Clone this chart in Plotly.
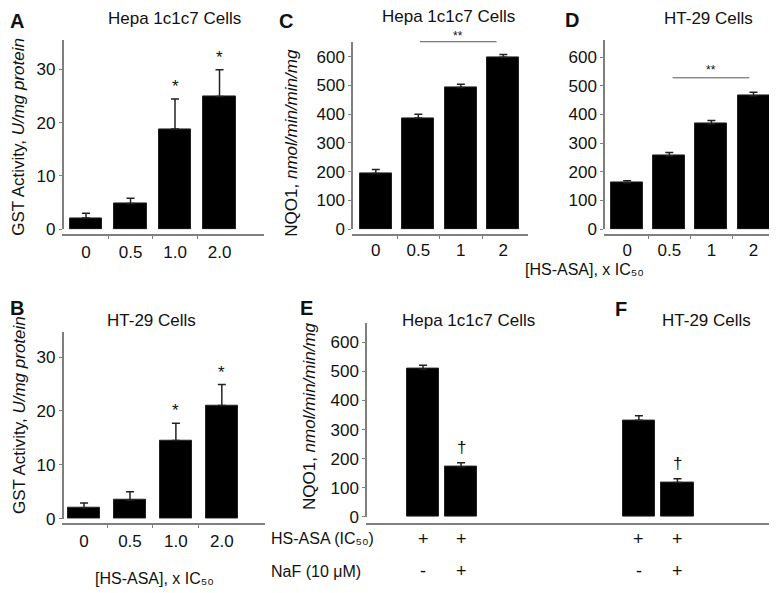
import plotly.graph_objects as go

W, H = 777, 593
FONT = "Liberation Sans, Arial, sans-serif"

# ---------------- data ----------------
gst_doses = ["0", "0.5", "1.0", "2.0"]
nqo_doses = ["0", "0.5", "1", "2"]

A_vals = [2.1, 4.8, 18.8, 24.9]
A_err = [0.9, 1.0, 5.6, 5.0]
A_sig = ["", "", "*", "*"]

B_vals = [2.0, 3.4, 14.5, 21.0]
B_err = [0.9, 1.6, 3.2, 3.9]
B_sig = ["", "", "*", "*"]

C_vals = [194, 387, 493, 598]
C_err = [14, 13, 11, 10]

D_vals = [162, 256, 368, 465]
D_err = [7, 11, 11, 12]

E_vals = [508, 172]
E_err = [13, 14]
F_vals = [332, 118]
F_err = [15, 13]
EF_sig = ["", "†"]
hs_asa_row = ["+", "+"]
naf_row = ["-", "+"]

gst_ticks = [0, 10, 20, 30]
nqo_ticks = [0, 100, 200, 300, 400, 500, 600]

# --------------- helpers ---------------
def xp(px):
    return px / W

def yp(py):
    return 1 - py / H

AX = "#7f7f7f"
TXT = "#111111"
SUB50 = "\u2085\u2080"
fig = go.Figure()
annotations = []
shapes = []


def add_bars(xname, yname, vals, errs, width):
    fig.add_trace(go.Bar(
        x=list(range(len(vals))), y=vals, width=width,
        marker=dict(color="black", line=dict(color="#222", width=1)),
        error_y=dict(type="data", symmetric=False, array=errs,
                     arrayminus=[0] * len(errs), color="#222",
                     thickness=1.5, width=4),
        xaxis=xname, yaxis=yname, showlegend=False,
    ))


def xaxis_cfg(dom, rng, ypos, labels, standoff=2, show_labels=True):
    n = len(labels)
    d = dict(
        domain=[xp(dom[0]), xp(dom[1])], range=rng, anchor="free",
        position=yp(ypos), showline=True, linecolor=AX, linewidth=1.5,
        ticks="", showgrid=False, zeroline=False,
        fixedrange=True,
    )
    if show_labels:
        d.update(
            tickmode="array", tickvals=list(range(n)), ticktext=labels,
            tickfont=dict(family=FONT, size=17, color=TXT),
            ticklabelstandoff=standoff,
            minor=dict(tickmode="array",
                       tickvals=[i + 0.5 for i in range(n - 1)],
                       ticks="outside", ticklen=3, tickcolor=AX, showgrid=False),
        )
    else:
        d.update(showticklabels=False, tickmode="array", tickvals=[])
    return d


def yaxis_cfg(dom, rng, xpos, tickvals, show=True):
    d = dict(
        domain=[yp(dom[0]), yp(dom[1])], range=rng, anchor="free",
        position=xp(xpos), showline=show, linecolor=AX, linewidth=1.5,
        showgrid=False, zeroline=False, fixedrange=True,
    )
    if show:
        d.update(tickmode="array", tickvals=tickvals, ticks="outside",
                 ticklen=3, tickcolor=AX,
                 tickfont=dict(family=FONT, size=17, color=TXT))
    else:
        d.update(showticklabels=False, tickmode="array", tickvals=[])
    return d


add_bars("x", "y", A_vals, A_err, 0.73)
add_bars("x2", "y2", B_vals, B_err, 0.71)
add_bars("x3", "y3", C_vals, C_err, 0.75)
add_bars("x4", "y4", D_vals, D_err, 0.76)
add_bars("x5", "y5", E_vals, E_err, 0.84)
add_bars("x6", "y6", F_vals, F_err, 0.84)

fig.update_layout(
    xaxis=xaxis_cfg((54, 256), [-0.54, 4.0], 230.7, gst_doses, standoff=2),
    yaxis=yaxis_cfg((225, 33), [0, 35.4], 54.5, gst_ticks),
    xaxis2=xaxis_cfg((54, 257), [-0.48, 3.94], 525, gst_doses, standoff=2),
    yaxis2=yaxis_cfg((519.3, 329.3), [0, 34.7], 54.5, gst_ticks),
    xaxis3=xaxis_cfg((344, 520), [-0.56, 3.58], 230.7, nqo_doses, standoff=0),
    yaxis3=yaxis_cfg((225, 35), [0, 650], 344, nqo_ticks),
    xaxis4=xaxis_cfg((596, 775), [-0.55, 3.70], 230.7, nqo_doses, standoff=0),
    yaxis4=yaxis_cfg((225, 33), [0, 658], 596, nqo_ticks),
    xaxis5=xaxis_cfg((358, 561), [-1.5, 3.84], 525, ["", ""], show_labels=False),
    yaxis5=yaxis_cfg((517.7, 320), [0, 667], 358, nqo_ticks),
    xaxis6=xaxis_cfg((560, 775), [-1.84, 3.74], 525, ["", ""], show_labels=False),
    yaxis6=yaxis_cfg((517.7, 320), [0, 667], 560, nqo_ticks, show=False),
)


def txt(x, y, text, size=17, bold=False, xanchor="center", xref="paper",
        yref="paper", textangle=0, yanchor="middle", yshift=0):
    annotations.append(dict(
        x=x, y=y, xref=xref, yref=yref, text=("<b>%s</b>" % text) if bold else text,
        showarrow=False, xanchor=xanchor, yanchor=yanchor, textangle=textangle,
        yshift=yshift, font=dict(family=FONT, size=size, color=TXT),
    ))


# titles
txt(xp(166), yp(11), "Hepa 1c1c7 Cells")
txt(xp(440), yp(9), "Hepa 1c1c7 Cells")
txt(xp(700), yp(11), "HT-29 Cells")
txt(xp(143), yp(318), "HT-29 Cells")
txt(xp(460), yp(318), "Hepa 1c1c7 Cells")
txt(xp(698), yp(318), "HT-29 Cells")

# panel letters
txt(xp(9), yp(13), "A", size=20, bold=True)
txt(xp(9), yp(305), "B", size=20, bold=True)
txt(xp(278), yp(13), "C", size=20, bold=True)
txt(xp(564), yp(12), "D", size=20, bold=True)
txt(xp(298), yp(305), "E", size=20, bold=True)
txt(xp(613), yp(306), "F", size=20, bold=True)

# y-axis titles
gst_title = "GST Activity, <i>U/mg protein</i>"
nqo_title = "NQO1, <i>nmol/min/min/mg</i>"
txt(xp(11), yp(131), gst_title, size=17, textangle=-90)
txt(xp(11), yp(414), gst_title, size=17, textangle=-90)
txt(xp(284), yp(137), nqo_title, size=17, textangle=-90)
txt(xp(301), yp(415), nqo_title, size=17, textangle=-90)

# x-axis titles
txt(xp(576), yp(266), "[HS-ASA], x IC" + SUB50, size=16)
txt(xp(146), yp(580), "[HS-ASA], x IC" + SUB50, size=16)

# significance stars / daggers
for xa, ya, vals, errs, sig in [("x", "y", A_vals, A_err, A_sig),
                                 ("x2", "y2", B_vals, B_err, B_sig),
                                 ("x5", "y5", E_vals, E_err, EF_sig),
                                 ("x6", "y6", F_vals, F_err, EF_sig)]:
    for i, s in enumerate(sig):
        if s:
            txt(i, vals[i] + errs[i], s, size=17, xref=xa, yref=ya,
                yanchor="bottom", yshift=1 if s == "*" else 4)

# ** bars in C and D
shapes.append(dict(type="line", xref="x3", yref="paper", x0=1.04, x1=2.84,
                   y0=yp(34.3), y1=yp(34.3), line=dict(color="#555", width=1)))
txt(1.94, yp(34.3), "**", size=12, xref="x3", yanchor="bottom", yshift=-3)
shapes.append(dict(type="line", xref="x4", yref="paper", x0=1.08, x1=2.9,
                   y0=yp(71), y1=yp(71), line=dict(color="#555", width=1)))
txt(2.0, yp(71), "**", size=12, xref="x4", yanchor="bottom", yshift=-1)

# treatment rows E/F
txt(xp(261), yp(540), "HS-ASA (IC" + SUB50 + ")", size=16, xanchor="left")
txt(xp(261), yp(573), "NaF (10 μM)", size=16, xanchor="left")
for xa in ["x5", "x6"]:
    for i in range(len(hs_asa_row)):
        txt(i, yp(540), hs_asa_row[i], size=18, xref=xa)
        txt(i, yp(573), naf_row[i], size=18, xref=xa)

fig.update_layout(
    width=W, height=H, margin=dict(l=0, r=0, t=0, b=0),
    paper_bgcolor="white", plot_bgcolor="white",
    annotations=annotations, shapes=shapes, bargap=0,
    font=dict(family=FONT, color=TXT),
)
fig.write_html("out.html")
